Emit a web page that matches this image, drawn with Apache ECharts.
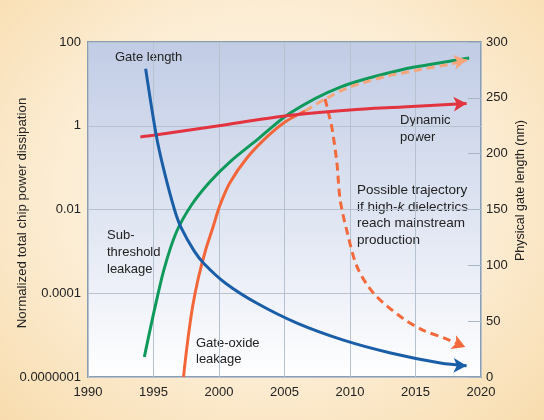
<!DOCTYPE html>
<html>
<head>
<meta charset="utf-8">
<script src="https://cdn.jsdelivr.net/npm/echarts@6/dist/echarts.min.js"></script>
<style>
  html, body { margin: 0; padding: 0; }
  body {
    width: 544px; height: 420px;
    background: radial-gradient(ellipse at 50% 45%, #fef8ec 0%, #fcedd4 55%, #f8dcae 100%);
  }
  #chart { width: 544px; height: 420px; }
</style>
</head>
<body>
<div id="chart"></div>
<script>
// [year, value] pairs
// left axis (normalized power, log)
const dynamicPower = [[1994, 0.54], [1995, 0.59], [2000, 1.0], [2005, 1.7], [2010, 2.38], [2014, 2.8], [2018.9, 3.4]];
const subthresholdLeakage = [[1994.3, 3.0e-6], [1995.07, 4.0e-5], [1995.83, 4.0e-4], [1996.75, 2.9e-3], [1997.9, 0.0128], [1999.29, 0.0454],
  [2000.82, 0.136], [2002.9, 0.46], [2005.43, 2.02], [2009.26, 8.4], [2013.87, 21.5], [2017.7, 35], [2019.1, 41.5]];
const gateOxideLeakage = [[1997.29, 1e-6], [1997.6, 6.9e-6], [1997.98, 4.7e-5], [1998.44, 2.44e-4], [1998.98, 1.08e-3], [1999.52, 3.6e-3],
  [2000.05, 0.0121], [2000.82, 0.043], [2002.13, 0.17], [2003.66, 0.54], [2005.04, 1.23], [2006.58, 2.25]];
const gateOxideTrend = [[2006.58, 2.25], [2008.11, 4.35], [2009.8, 8.0], [2012.56, 14.6], [2015.17, 21.4], [2017.7, 29.8], [2018.93, 37]];
const highKTrajectory = [[2008.1, 4.4], [2008.4, 1.8], [2008.65, 0.79], [2009.0, 0.13], [2009.25, 0.017], [2009.8, 2.75e-3], [2010.55, 4.2e-4],
  [2011.8, 1.0e-4], [2013.9, 2.7e-5], [2015.6, 1.3e-5], [2017.2, 8.5e-6], [2018.8, 5.2e-6]];
// right axis (nm)
const gateLength = [[1994.4, 276], [1995.2, 217], [1995.8, 185], [1996.6, 150], [1997.1, 134], [1998.1, 113], [1998.9, 101], [2000.5, 84],
  [2002.9, 66], [2006.0, 48], [2009.5, 33], [2013.1, 21.5], [2016.9, 12.5], [2018.9, 10]];

const leftTickValues = [1e-6, 1e-4, 1e-2, 1, 100];
const leftTickLabels = ['0.0000001', '0.0001', '0.01', '1', '100'];

const FONT = "'Liberation Sans', Arial, sans-serif";

// put an arrow head on the last point
function withArrow(data, color, rot) {
  return data.map((d, i) => i < data.length - 1 ? d : {
    value: d, symbol: 'arrow', symbolSize: [11, 13], symbolRotate: rot, itemStyle: {color: color}
  });
}

function lineSeries(name, data, color, yAxisIndex, opts) {
  opts = opts || {};
  return {
    name: name,
    type: 'line',
    yAxisIndex: yAxisIndex,
    data: opts.arrow === undefined ? data : withArrow(data, color, opts.arrow),
    smooth: 0.3,
    symbol: 'none',
    showSymbol: true,
    silent: true,
    clip: true,
    lineStyle: {color: color, width: 3, type: opts.dash ? [8, 5] : 'solid'},
    itemStyle: {color: color},
    z: opts.z || 2
  };
}

const chart = echarts.init(document.getElementById('chart'), null, {renderer: 'canvas'});

chart.setOption({
  animation: false,
  textStyle: {fontFamily: FONT},
  grid: {
    left: 88, right: 63, top: 42, bottom: 43,
    outerBoundsMode: 'none',
    show: true,
    borderColor: '#8a9db1',
    borderWidth: 2,
    backgroundColor: new echarts.graphic.LinearGradient(0, 0, 0, 1, [
      {offset: 0, color: '#c1cce5'},
      {offset: 0.6, color: '#e4e9f4'},
      {offset: 1, color: '#ffffff'}
    ])
  },
  xAxis: {
    type: 'value', min: 1990, max: 2020, interval: 5,
    axisLine: {show: false},
    axisTick: {show: false},
    axisLabel: {color: '#222', fontSize: 13, fontFamily: FONT, margin: 9, formatter: v => String(v)},
    splitLine: {show: true, lineStyle: {color: '#b7c2d0', width: 1}}
  },
  yAxis: [{
    type: 'log', logBase: 100, min: 1e-6, max: 100, position: 'left',
    name: 'Normalized total chip power dissipation',
    nameLocation: 'middle', nameGap: 59, nameMoveOverlap: false,
    nameTextStyle: {color: '#222', fontSize: 13.3, fontFamily: FONT, padding: [0, 7, 0, 0]},
    axisLine: {show: false},
    axisTick: {show: false},
    axisLabel: {
      color: '#222', fontSize: 13, fontFamily: FONT, margin: 7,
      formatter: function (v) {
        let best = 0;
        leftTickValues.forEach((t, i) => {
          if (Math.abs(Math.log10(t) - Math.log10(v)) < Math.abs(Math.log10(leftTickValues[best]) - Math.log10(v))) best = i;
        });
        return leftTickLabels[best];
      }
    },
    splitLine: {show: true, lineStyle: {color: '#b7c2d0', width: 1}}
  }, {
    type: 'value', min: 0, max: 300, interval: 50, position: 'right',
    name: 'Physical gate length (nm)',
    nameLocation: 'middle', nameGap: 33, nameRotate: 90, nameMoveOverlap: false,
    nameTextStyle: {color: '#222', fontSize: 12.5, fontFamily: FONT, padding: [0, 0, 0, 38]},
    axisLine: {show: false},
    axisTick: {show: true, inside: true, length: 13, lineStyle: {color: '#a9b6c5'}},
    axisLabel: {color: '#222', fontSize: 13, fontFamily: FONT, margin: 5},
    splitLine: {show: false}
  }],
  series: [
    lineSeries('Sub-threshold leakage', subthresholdLeakage, '#0f9a5c', 0, {z: 2}),
    lineSeries('Gate-oxide leakage', gateOxideLeakage, '#f3663a', 0, {z: 3}),
    lineSeries('Gate-oxide leakage (trend)', gateOxideTrend, '#f6a57a', 0, {dash: true, arrow: -80, z: 4}),
    lineSeries('Dynamic power', dynamicPower, '#e3333f', 0, {arrow: -87, z: 5}),
    lineSeries('Possible trajectory with high-k', highKTrajectory, '#f26a3c', 0, {dash: true, arrow: -112, z: 4}),
    lineSeries('Gate length', gateLength, '#1a5ea8', 1, {arrow: -92, z: 6})
  ],
  graphic: [
    {type: 'text', left: 115, top: 51, style: {text: 'Gate length', fill: '#222', font: '13px ' + FONT}},
    {type: 'text', left: 400, top: 112, style: {text: 'Dynamic\npower', fill: '#222', font: '13px ' + FONT, lineHeight: 17}},
    {type: 'text', left: 357, top: 182, style: {
      text: 'Possible trajectory\nif high-{i|k} dielectrics\nreach mainstream\nproduction',
      fill: '#222', font: '13.5px ' + FONT, lineHeight: 16.7,
      rich: {i: {fontStyle: 'italic', fontSize: 13.5, fontFamily: FONT, fill: '#222'}}
    }},
    {type: 'text', left: 107, top: 227, style: {text: 'Sub-\nthreshold\nleakage', fill: '#222', font: '13px ' + FONT, lineHeight: 17}},
    {type: 'text', left: 196, top: 336, style: {text: 'Gate-oxide\nleakage', fill: '#222', font: '13px ' + FONT, lineHeight: 15.5}}
  ]
});
</script>
</body>
</html>
